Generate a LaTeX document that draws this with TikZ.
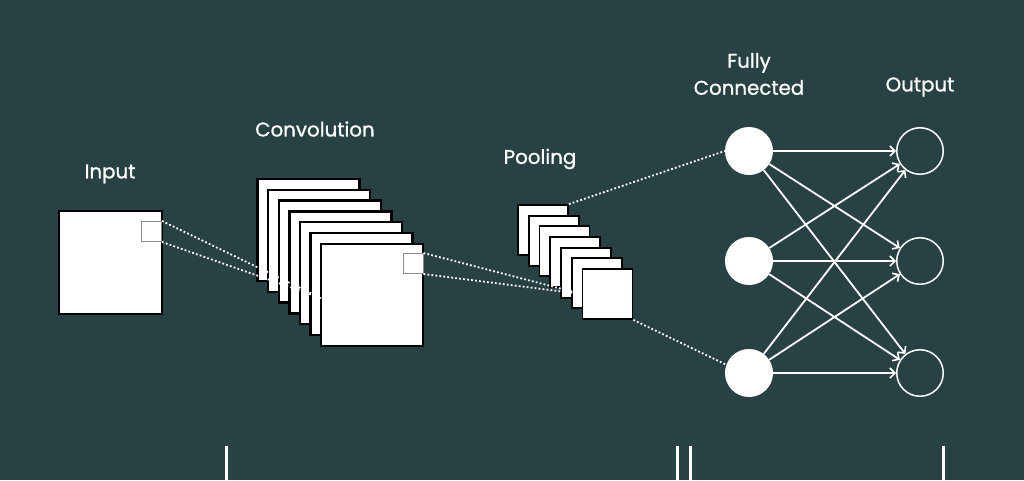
\documentclass[tikz,border=0pt]{standalone}
\usepackage{fontspec}
\setmainfont{Poppins}
\newfontfamily\labelfont[RawFeature={embolden=1}]{Poppins}
\usepackage{xcolor}
\definecolor{bgteal}{HTML}{284244}
\definecolor{framegray}{HTML}{8A8A8A}
\usepackage{tikz}
\usetikzlibrary{arrows.meta,positioning,calc}
\tikzset{
  layertxt/.style={text=white, font=\labelfont\fontsize{19.8}{27}\selectfont, align=center, inner sep=0pt},
  inputsq/.style={rectangle, draw=black, fill=white, line width=2pt,
    minimum size=103pt, inner sep=0pt},
  convsq/.style={rectangle, draw=black, fill=white, line width=2.4pt,
    minimum size=102pt, inner sep=0pt},
  poolsq/.style={rectangle, draw=black, fill=white, line width=1.8pt,
    minimum size=50pt, inner sep=0pt},
  windowsq/.style={rectangle, draw=framegray, fill=white, line width=1pt,
    minimum size=20pt, inner sep=0pt},
  dotline/.style={draw=white, line width=1.8pt, dash pattern=on 1.8pt off 2.2pt},
  fcnode/.style={circle, fill=white, minimum size=48pt, inner sep=0pt},
  outnode/.style={circle, draw=white, line width=1.5pt, minimum size=46.5pt, inner sep=0pt},
  fcarrow/.style={draw=white, line width=1.8pt, -{Straight Barb[length=5pt,width=10pt,line width=1.6pt]}},
  tickbar/.style={draw=white, line width=3pt},
}
\begin{document}
\begin{tikzpicture}[x=1pt,y=-1pt]
  \fill[bgteal] (0,0) rectangle (1024,480);
  \useasboundingbox (0,0) rectangle (1024,480);

  % labels
  \node[layertxt] (lblin) at (110,174) {Input};
  \node[layertxt] (lblconv) at (315,129) {Convolution};
  \node[layertxt] (lblpool) at (540,159) {Pooling};
  \node[layertxt] (lblfc) at (749,74) {Fully\\Connected};
  \node[layertxt] (lblout) at (920,87) {Output};

  % input image
  \node[inputsq] (inp) at (110.5,262.5) {};
  \node[windowsq] (win1) at (151.5,231.5) {};

  % convolution stack
  \foreach \i in {0,...,6}
    \node[convsq] (c\i) at (308.5+10.6*\i,230+10.8*\i) {};
  \node[windowsq] (win2) at (413,263.5) {};
  \coordinate (convin) at (321,298);

  % pooling stack
  \foreach \i in {0,...,6}
    \node[poolsq] (p\i) at (543+10.75*\i,230+10.67*\i) {};

  % fully connected + output
  \foreach \k/\y in {1/151,2/261,3/373} {
    \node[fcnode] (fc\k) at (749,\y) {};
    \node[outnode] (out\k) at (920,\y) {};
  }

  % receptive field lines
  \draw[dotline] (win1.north east) -- (convin);
  \draw[dotline] (win1.south east) -- (convin);
  \draw[dotline] (win2.north east) -- (p6.west);
  \draw[dotline] (win2.south east) -- (p6.west);
  \draw[dotline] (p0.north east) -- (fc1.west);
  \draw[dotline] (p6.south east) -- (fc3.160);

  \foreach \i in {1,2,3}
    \foreach \j in {1,2,3}
      \draw[fcarrow] (fc\i) -- (out\j);

  % bottom marks
  \draw[tickbar] (226,446) -- (226,480);
  \draw[tickbar] (677,446) -- (677,480);
  \draw[tickbar] (690,446) -- (690,480);
  \draw[tickbar] (943,446) -- (943,480);
\end{tikzpicture}
\end{document}
